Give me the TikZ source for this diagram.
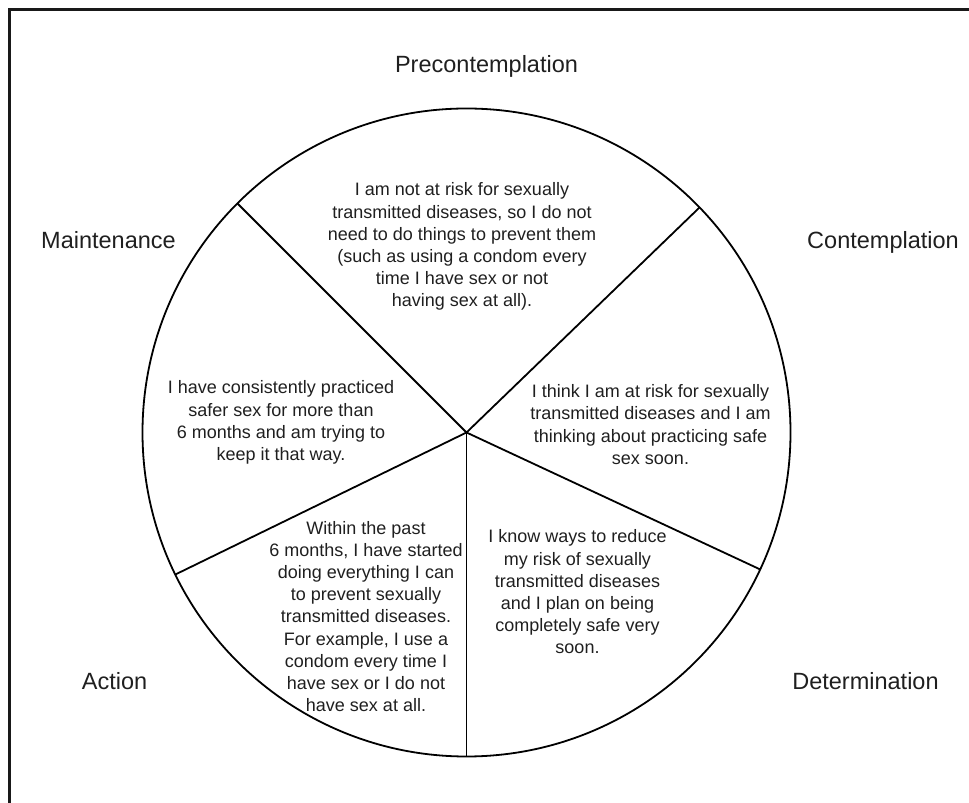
\documentclass[tikz,border=0pt]{standalone}
\usepackage{fontspec}
\setmainfont{Liberation Sans}
\begin{document}
\begin{tikzpicture}[x=1pt,y=1pt,
  stage/.style={font=\fontsize{23.5}{28}\selectfont, text=black!88, inner sep=0, anchor=base},
  statement/.style={font=\fontsize{18}{22.2}\selectfont, text=black!88, inner sep=0, align=center},
  spoke/.style={line width=1.8pt, black}]
\useasboundingbox (0,0) rectangle (969,803);
% open frame (left and top edges)
\draw[line width=3pt, black!90] (9.5,-5) -- (9.5,793.5) -- (975,793.5);
% wheel
\node[circle, draw, line width=1.8pt, minimum size=648pt, inner sep=0, outer sep=0] (wheel) at (466.5,370.5) {};
\coordinate (hub) at (wheel.center);
\draw[spoke] (hub) -- (wheel.135.5);
\draw[spoke] (hub) -- (wheel.44.5);
\draw[spoke] (hub) -- (wheel.-25.8);
\draw[spoke] (hub) -- (wheel.-90);
\draw[spoke] (hub) -- (wheel.206);
% stage labels
\node[stage] (pre) at (486.5,730) {Precontemplation};
\node[stage] (con) at (883,554) {Contemplation};
\node[stage] (mai) at (108.5,554) {Maintenance};
\node[stage] (act) at (114.5,113) {Action};
\node[stage] (det) at (865.5,113) {Determination};
% statements
\node[statement] (tpre) at (462,556.3) {I am not at risk for sexually\\transmitted diseases, so I do not\\need to do things to prevent them\\(such as using a condom every\\time I have sex or not\\having sex at all).};
\node[statement] (tmai) at (281,380.5) {I have consistently practiced\\safer sex for more than\\6 months and am trying to\\keep it that way.};
\node[statement] (tcon) at (650.5,378.5) {I think I am at risk for sexually\\transmitted diseases and I am\\thinking about practicing safe\\sex soon.};
\node[statement] (tact) at (366,186.5) {Within the past\\6 months, I have started\\doing everything I can\\to prevent sexually\\transmitted diseases.\\For example, I use a\\condom every time I\\have sex or I do not\\have sex at all.};
\node[statement] (tdet) at (577.5,211) {I know ways to reduce\\my risk of sexually\\transmitted diseases\\and I plan on being\\completely safe very\\soon.};
\end{tikzpicture}
\end{document}
